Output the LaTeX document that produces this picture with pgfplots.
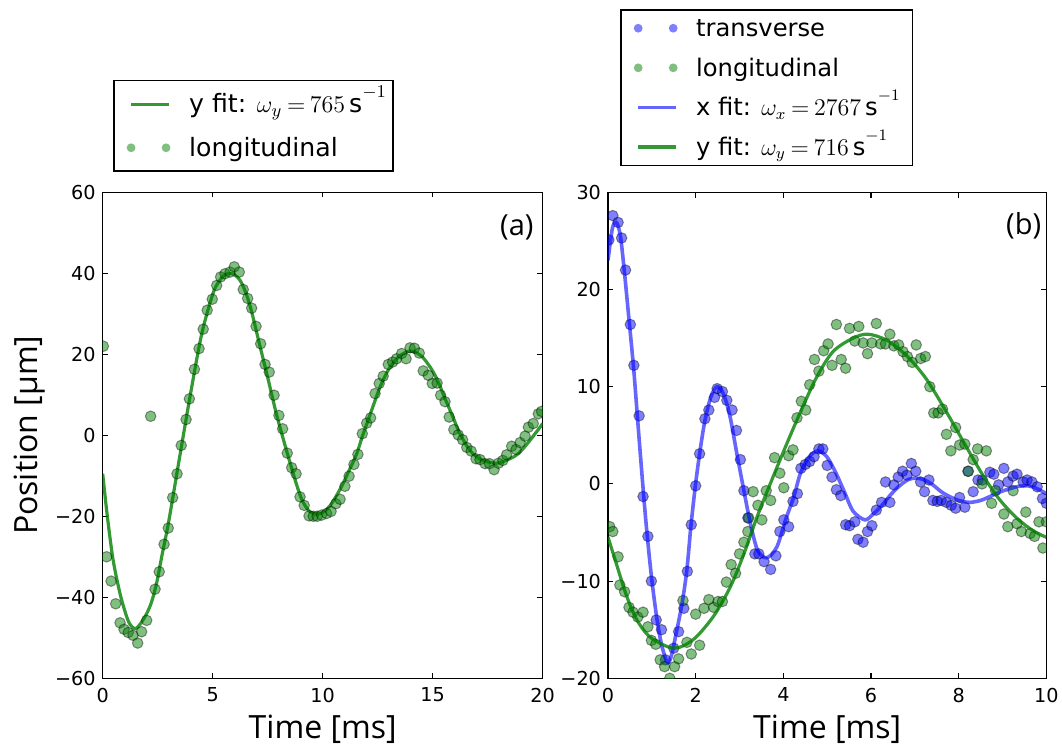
\documentclass[border=0pt]{standalone}
\usepackage{pgfplots}
\pgfplotsset{compat=1.18}
\usepackage{fontspec}
\setmainfont{DejaVu Sans}
\newfontfamily\labelfont{Open Sans}
\usetikzlibrary{calc}
\definecolor{mplgreen}{rgb}{0,0.5,0}
\definecolor{mplblue}{rgb}{0,0,1}
\newcommand{\lt}[1]{\smash{#1}\strut}
\newcommand{\eq}{\mkern-1.5mu=\mkern-1.5mu}
\pgfplotsset{
  common/.style={
    scale only axis, height=243pt, anchor=south west,
    axis line style={line width=0.75pt},
    tick style={line width=0.55pt, black},
    major tick length=2.6pt, tick align=inside,
    xtick pos=both, ytick pos=both,
    ticklabel style={font=\fontsize{9.6}{11}\selectfont},
    x tick label style={yshift=-1.3pt},
    clip mode=individual, clip marker paths=true,
    xlabel={Time [ms]},
    every axis x label/.style={at={($(axis description cs:0.5,0)+(0,-30pt)$)}, anchor=base, font=\labelfont\fontsize{16}{18}\selectfont},
    every axis y label/.style={at={($(axis description cs:0,0.5)+(-32.5pt,0)$)}, rotate=90, anchor=base, font=\labelfont\fontsize{16}{18}\selectfont},
    legend cell align=left,
    legend style={anchor=north west, draw=black, line width=0.6pt,
      inner xsep=6pt, inner ysep=3.5pt, row sep=8.5pt, column sep=9pt,
      nodes={inner sep=0pt}},
  },
  fitline/.style={color=#1, line width=1.6pt, smooth, tension=0.5, no markers,
    legend image code/.code={\draw[##1] (0pt,0pt) -- (19pt,0pt); \path[draw=none,fill=none] (-2.6pt,-2.6pt) rectangle (20pt,2.6pt);}},
  pts/.style={only marks, mark=*, mark size=2.65pt,
    mark options={fill=#1, fill opacity=0.5, draw=black, draw opacity=0.4, line width=0.5pt},
    legend image code/.code={\fill[draw=none, fill=#1!50!white, fill opacity=1] (0pt,0pt) circle[radius=2.2pt] (17.5pt,0pt) circle[radius=2.2pt]; \path[draw=none,fill=none] (-2.6pt,-2.6pt) rectangle (20pt,2.6pt);}},
}
\begin{document}
\begin{tikzpicture}
\useasboundingbox (-51.35pt,-32.85pt) rectangle (479.65pt,339.15pt);
% ---------------- (a)
\begin{axis}[common, at={(0pt,0pt)}, width=220pt,
  xmin=0, xmax=20, ymin=-60, ymax=60,
  xtick={0,5,10,15,20}, xticklabels={0,5,10,15,20},
  ytick={-60,-40,-20,0,20,40,60}, yticklabels={−60,−40,−20,0,20,40,60},
  ylabel={Position [µm]},
  legend style={at={(0.0241,1.2305)}, font=\fontsize{12.6}{14}\selectfont, inner ysep=6pt, row sep=10.5pt}]
\addplot[fitline=mplgreen, opacity=0.8] coordinates {
(0,-9.5) (0.2,-19.5) (0.45,-30) (0.7,-37) (0.91,-41.6) (1.2,-46.3) (1.51,-47.7) (1.9,-45.0)
(2.2,-41.5) (2.45,-36.5) (2.7,-29.5) (3.0,-21.3) (3.5,-5.3) (4.0,10.5) (4.5,25.0) (5.0,34.8)
(5.26,37.8) (5.5,39.4) (5.75,40.0) (6.0,39.6) (6.24,38.3) (6.5,35.3) (6.77,30.5) (7.15,22.0)
(7.53,13.6) (7.88,5.6) (8.14,0.4) (8.41,-4.8) (8.82,-12.3) (9.09,-16.3) (9.4,-18.8) (9.73,-19.5)
(10.05,-18.9) (10.4,-16.9) (10.86,-12.6) (11.2,-8.7) (11.55,-4.5) (11.8,-0.3) (12.2,5.8) (12.6,11.8)
(13.0,16.3) (13.5,19.6) (14.0,20.8) (14.5,19.5) (14.95,16.3) (15.25,13.2) (15.55,9.2) (15.86,5.3)
(16.24,0.4) (16.7,-3.8) (17.2,-6.0) (17.9,-6.9) (18.5,-5.8) (18.9,-4.5) (19.4,-1.4) (20,2.9)};
\addlegendentry{\lt{y fit: $\omega_y\eq765\,\mathrm{s}^{-1}$}\kern-3pt}
\addplot[pts=mplgreen] coordinates {
(0.03,22) (0.18,-30) (0.38,-36) (0.59,-41.6) (0.79,-46.3) (0.97,-47.9) (1.16,-48.7) (1.38,-49.4)
(1.59,-51.3) (1.77,-48.5) (2.0,-45.7) (2.18,4.7) (2.38,-38) (2.57,-33.7) (2.79,-26.9) (2.98,-22.9)
(3.18,-15.4) (3.38,-9.5) (3.57,-2.5) (3.79,3.9) (3.94,9) (4.17,16.3) (4.38,21.4) (4.57,26.2)
(4.75,30.9) (4.98,33.6) (5.18,37.0) (5.36,39.1) (5.56,39.9) (5.79,40.3) (5.98,41.6) (6.21,40.3)
(6.39,36.0) (6.59,33.8) (6.77,31.4) (6.97,26.9) (7.18,22.6) (7.38,17.5) (7.57,15.6) (7.79,9.9)
(8.01,4.9) (8.18,1.6) (8.39,-4.4) (8.59,-8.0) (8.79,-9.5) (8.97,-15.2) (9.16,-17.3) (9.38,-19.9)
(9.57,-20) (9.75,-20) (9.95,-19.7) (10.18,-19.3) (10.38,-18.8) (10.6,-16.9) (10.79,-15.8) (11.01,-12.6)
(11.2,-10.1) (11.42,-7.2) (11.6,-4.7) (11.8,0.4) (12.0,3.0) (12.18,4.3) (12.38,10.3) (12.57,12.8)
(12.75,14.6) (12.98,17.5) (13.18,18.1) (13.36,18.9) (13.59,20.2) (13.79,18.9) (13.97,21.6) (14.17,21.5)
(14.39,20.3) (14.57,15.9) (14.8,14.8) (14.98,12.8) (15.2,12.9) (15.36,9.9) (15.56,8.3) (15.75,4.5)
(15.96,1.4) (16.16,0.1) (16.36,-1.1) (16.55,-3.0) (16.75,-3.9) (16.97,-5.8) (17.15,-6.0) (17.38,-7.0)
(17.58,-7.0) (17.79,-8.5) (17.99,-6.9) (18.19,-6.2) (18.36,-4.8) (18.59,-2.7) (18.79,-3.5) (18.97,-1.8)
(19.2,-0.2) (19.35,2.0) (19.57,2.9) (19.8,5.3) (19.95,5.9)};
\addlegendentry{\lt{longitudinal}}
\node[anchor=east, inner sep=0pt, font=\labelfont\fontsize{14.5}{16}\selectfont] at (rel axis cs:0.98,0.928) {(a)};
\end{axis}
% ---------------- (b)
\begin{axis}[common, at={(252.65pt,0pt)}, width=219.2pt,
  xmin=0, xmax=10, ymin=-20, ymax=30,
  xtick={0,2,4,6,8,10}, xticklabels={0,2,4,6,8,10},
  ytick={-20,-10,0,10,20,30}, yticklabels={−20,−10,0,10,20,30},
  legend style={at={(0.0283,1.3765)}, font=\fontsize{12.1}{14}\selectfont}]
\addplot[pts=mplblue] coordinates {
(0.02,25.1) (0.11,27.6) (0.23,26.9) (0.31,25.3) (0.40,22.0) (0.51,16.4) (0.59,12.2) (0.71,7.0)
(0.80,-1.3) (0.91,-5.4) (0.99,-10.0) (1.10,-14.0) (1.22,-15.0) (1.31,-18.1) (1.50,-16.9) (1.61,-15.2)
(1.73,-12.8) (1.81,-9.0) (1.90,-4.2) (2.0,-0.2) (2.09,3.1) (2.21,6.7) (2.30,7.6) (2.43,8.9)
(2.49,9.8) (2.61,9.5) (2.71,8.6) (2.83,7.6) (2.93,5.5) (3.02,2.5) (3.10,-0.7) (3.19,-3.5)
(3.35,-7.2) (3.44,-7.2) (3.56,-8.0) (3.71,-8.8) (3.83,-7.4) (3.92,-4.9) (4.01,-3.7) (4.12,-4.4)
(4.22,-1.8) (4.32,-1.0) (4.40,1.6) (4.50,2.0) (4.60,2.3) (4.70,2.8) (4.81,3.6) (4.90,3.6)
(5.00,1.9) (5.11,0.7) (5.21,-0.6) (5.31,-1.2) (5.42,-4.2) (5.51,-4.3) (5.63,-3.9) (5.70,-5.7)
(5.82,-6.0) (5.92,-4.9) (6.02,-4.3) (6.12,-2.7) (6.24,-1.9) (6.33,0.2) (6.43,-1.9) (6.52,-0.1)
(6.62,0.7) (6.72,1.3) (6.82,0.9) (6.92,2.1) (7.02,1.3) (7.13,0.2) (7.22,-0.8) (7.32,0.4)
(7.41,-1.7) (7.51,-1.8) (7.60,-1.7) (7.72,-1.9) (7.83,-2.2) (7.93,-2.5) (8.02,-1.4) (8.14,-2.4)
(8.21,1.3) (8.33,-0.8) (8.44,0.4) (8.54,0.4) (8.71,1.2) (8.80,1.0) (8.91,-0.1) (9.03,1.6)
(9.12,0.2) (9.24,0.8) (9.33,1.0) (9.47,0.2) (9.56,0.4) (9.67,0.2) (9.79,-0.3) (9.91,-1.5) (10.0,-2.0)};
\addlegendentry{\lt{transverse}}
\addplot[pts=mplgreen] coordinates {
(0.04,-4.4) (0.11,-4.9) (0.23,-7.5) (0.27,-10.4) (0.38,-11.1) (0.48,-12.7) (0.57,-13.2) (0.68,-13.7)
(0.80,-13.2) (0.91,-14.7) (0.99,-16.1) (1.09,-16.5) (1.19,-18.1) (1.29,-18.8) (1.41,-20.0) (1.52,-18.8)
(1.61,-18.0) (1.71,-12.0) (1.80,-16.3) (1.90,-17.5) (2.00,-13.4) (2.09,-16.6) (2.19,-12.8) (2.30,-11.9)
(2.41,-12.7) (2.51,-12.1) (2.61,-12.1) (2.70,-10.1) (2.81,-8.3) (2.91,-9.2) (3.00,-7.2) (3.10,-6.0)
(3.19,-4.9) (3.21,-3.5) (3.31,-0.8) (3.42,-2.2) (3.51,-3.7) (3.61,-0.7) (3.71,-1.7) (3.80,2.7)
(3.92,1.1) (4.01,-0.4) (4.12,2.9) (4.22,3.5) (4.31,6.8) (4.41,8.5) (4.51,7.6) (4.60,10.2)
(4.71,12.8) (4.81,11.6) (4.92,13.7) (5.02,14.4) (5.11,12.2) (5.21,16.4) (5.32,12.8) (5.42,11.9)
(5.51,16.0) (5.63,14.7) (5.72,16.2) (5.82,14.5) (5.92,13.4) (6.02,14.5) (6.12,16.5) (6.22,14.4)
(6.33,14.4) (6.43,15.4) (6.52,14.2) (6.63,14.3) (6.73,13.6) (6.83,13.1) (6.94,12.5) (7.03,14.3)
(7.13,12.9) (7.24,13.1) (7.34,10.0) (7.43,7.3) (7.53,7.3) (7.63,7.7) (7.72,5.1) (7.82,3.4)
(7.93,5.8) (8.02,4.0) (8.14,4.1) (8.22,1.3) (8.33,2.5) (8.43,3.6) (8.53,0.0) (8.63,3.4)
(8.75,-2.0) (8.84,-0.7) (9.03,-3.1) (9.12,-4.4) (9.24,-0.7) (9.33,-4.1) (9.43,-4.9) (9.53,-2.9)
(9.63,-5.1) (9.73,-5.4) (9.83,-3.9) (9.92,-6.6) (10.0,-3.9)};
\addlegendentry{\lt{longitudinal}}
\addplot[fitline=mplblue, opacity=0.6, line width=1.8pt] coordinates {
(0,23.0) (0.10,26.3) (0.19,26.9) (0.28,25.6) (0.37,22.0) (0.49,16.4) (0.59,11.6) (0.70,5.2)
(0.81,-1.0) (0.89,-5.1) (1.00,-9.9) (1.12,-14.0) (1.23,-16.7) (1.36,-18.4) (1.45,-17.6) (1.54,-15.7)
(1.69,-12.3) (1.80,-8.8) (1.89,-4.4) (1.99,-0.3) (2.09,3.1) (2.21,6.5) (2.35,9.0) (2.49,10.0)
(2.63,9.3) (2.78,7.0) (2.94,3.1) (3.10,-0.7) (3.25,-4.1) (3.41,-6.8) (3.62,-7.6) (3.85,-6.5)
(4.05,-3.7) (4.24,-1.3) (4.39,1.1) (4.59,2.8) (4.79,3.4) (4.99,2.8) (5.19,1.2) (5.39,-0.8)
(5.59,-2.8) (5.86,-3.7) (6.05,-3.1) (6.25,-2.2) (6.45,-1.1) (6.65,-0.2) (6.85,0.45) (7.03,0.6)
(7.22,0.4) (7.41,-0.1) (7.60,-0.8) (7.79,-1.3) (8.0,-1.7) (8.25,-1.9) (8.5,-1.7) (8.71,-1.3)
(8.93,-0.85) (9.16,-0.5) (9.37,-0.25) (9.58,-0.2) (9.79,-0.5) (10.0,-1.0)};
\addlegendentry{\lt{x fit: $\omega_x\eq2767\,\mathrm{s}^{-1}$}}
\addplot[fitline=mplgreen, opacity=0.8] coordinates {
(0,-5.46) (0.21,-8.5) (0.43,-11.6) (0.66,-14.0) (0.97,-15.8) (1.50,-16.9) (1.95,-16.0) (2.41,-13.6)
(2.79,-10.6) (3.10,-7.2) (3.40,-3.4) (3.70,0.0) (4.01,3.4) (4.37,7.2) (4.75,10.9) (5.13,13.6)
(5.59,15.0) (5.93,15.4) (6.35,14.8) (6.81,13.2) (7.26,10.8) (7.72,7.4) (8.10,4.4) (8.55,0.9)
(8.93,-1.6) (9.32,-3.5) (9.69,-4.8) (10,-5.5)};
\addlegendentry{\lt{y fit: $\omega_y\eq716\,\mathrm{s}^{-1}$}\rule[-5.7pt]{0pt}{1pt}}
\node[anchor=east, inner sep=0pt, font=\labelfont\fontsize{14.5}{16}\selectfont] at (rel axis cs:0.989,0.932) {(b)};
\end{axis}
\end{tikzpicture}
\end{document}
